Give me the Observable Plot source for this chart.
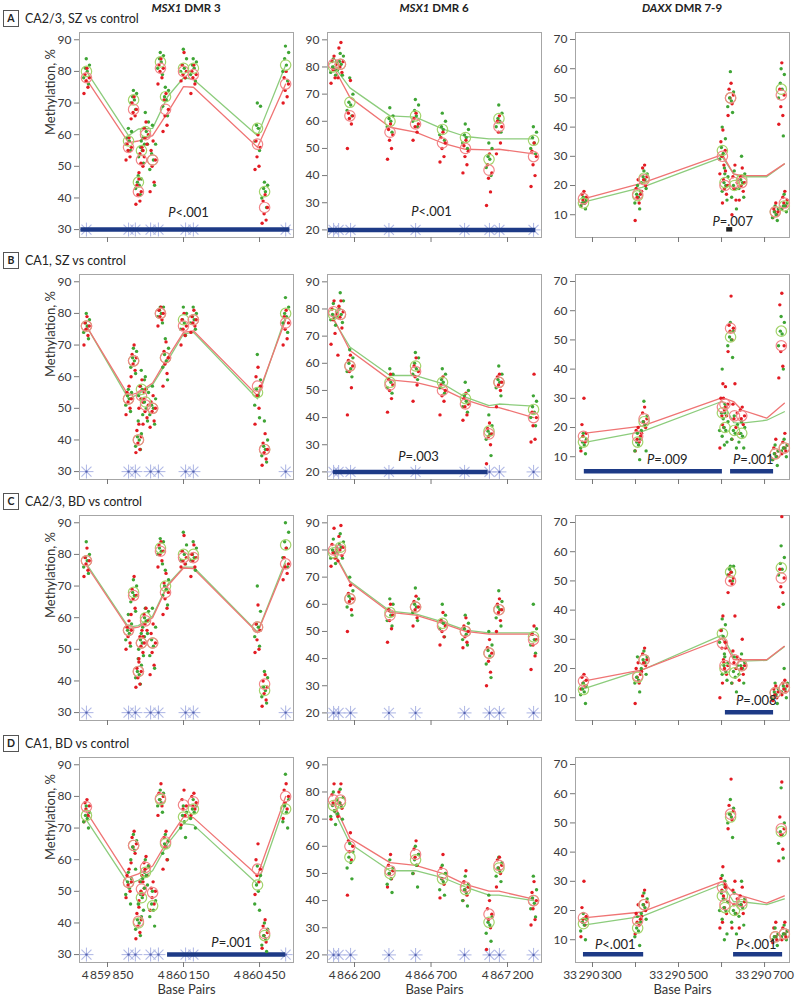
<!DOCTYPE html>
<html><head><meta charset="utf-8">
<script src="https://cdn.jsdelivr.net/npm/d3@7"></script>
<script src="https://cdn.jsdelivr.net/npm/@observablehq/plot@0.6"></script>
<style>
body{margin:0;background:#fff;}
#root{position:relative;width:800px;height:998px;font-family:Lato,"Open Sans",sans-serif;color:#333;overflow:hidden;background:#fff}
.colhead{position:absolute;top:1px;font-size:11.5px;font-weight:700;transform:translateX(-50%);white-space:nowrap;line-height:14px;color:#222}
.rowlab{position:absolute;left:3px;font-size:12.5px;display:flex;align-items:center;white-space:nowrap;line-height:16px;color:#222}
.rowlab .box{display:inline-block;width:14px;height:15px;border:1px solid #555;font-size:10.5px;font-weight:700;text-align:center;line-height:15px;margin-right:6px}
.panel{position:absolute}
</style></head><body><div id="root"></div>
<script>
// ---------- text ----------
const columnGenes = ["MSX1", "MSX1", "DAXX"];
const columnRegions = [" DMR 3", " DMR 6", " DMR 7-9"];
const rowLetters = ["A", "B", "C", "D"];
const rowTitles = ["CA2/3, SZ vs control", "CA1, SZ vs control", "CA2/3, BD vs control", "CA1, BD vs control"];

// ---------- axes ----------
const dmr3YTicks = [30, 40, 50, 60, 70, 80, 90];
const dmr6YTicks = [20, 30, 40, 50, 60, 70, 80, 90];
const daxxYTicks = [10, 20, 30, 40, 50, 60, 70];
const dmr3XTicks = [4859850, 4860150, 4860450];
const dmr6XTicks = [4866200, 4866700, 4867200];
const daxxXTicks = [33290300, 33290400, 33290500, 33290600, 33290700];
const daxxXLabels = [33290300, 33290500, 33290700];

// ---------- CpG site positions (base pairs) ----------
const dmr3Sites = [4859767, 4859933, 4859953, 4859972, 4859984, 4860000, 4860028, 4860059, 4860079, 4860150, 4860189, 4860442, 4860470, 4860553];
const dmr3Stars = [4859767, 4859933, 4859960, 4860020, 4860051, 4860158, 4860189, 4860553];
const dmr3LineX = [4859767, 4859933, 4859972, 4860028, 4860087, 4860150, 4860189, 4860442, 4860553];
const dmr6Sites = [4866063, 4866108, 4866170, 4866432, 4866599, 4866775, 4866925, 4867079, 4867144, 4867370];
const dmr6Stars = [4866063, 4866096, 4866174, 4866425, 4866599, 4866919, 4867082, 4867147, 4867370];
const dmr6LineX = [4866063, 4866170, 4866432, 4866599, 4866775, 4866925, 4867079, 4867144, 4867370];
const daxxSites = [33290279, 33290405, 33290420, 33290602, 33290608, 33290621, 33290630, 33290647, 33290725, 33290739, 33290746];
const daxxStars = [];
const daxxLineX = [33290279, 33290415, 33290602, 33290628, 33290647, 33290705, 33290746];

// ---------- MSX1 DMR 3 ----------
const A1RedPts = [[73,75,77,78,79,81],[52,53,55,56,57,59],[65,66,67,68,70,72],[38,39,41,42,44,46],[48,50,51,53,54,56],[55,57,59,60,62,64],[42,45,50,52,55,58],[76,78,80,81,82,84],[61,63,66,68,71,73],[77,78,79,80,82,86],[73,76,78,79,80,82],[49,50,53,56,58,60],[32,33,35,37,39,41],[70,72,74,76,78,80]];
const A1GreenPts = [[76,78,80,81,82,84],[55,57,58,59,61,62],[68,70,71,72,73,74],[41,43,44,45,46,47],[51,53,55,56,57,58],[57,59,61,62,64,67],[44,49,52,54,57,63],[79,81,83,84,85,86],[66,69,71,72,74,75],[78,80,81,82,84,87],[77,79,81,82,83,84],[55,58,62,63,69,70],[37,40,42,43,44,45],[77,80,82,84,86,88]];
const A1RedMean = [78, 56, 68, 42, 52, 60, 52, 81, 68, 80, 79, 57, 37, 76];
const A1GreenMean = [80, 58, 71, 45, 55, 61, 52, 83, 72, 81, 81, 62, 42, 82];
const A1RedLine = [77.5, 57.5, 58, 59.7, 67, 75.2, 75, 56, 76];
const A1GreenLine = [80, 59.7, 61.8, 62, 72, 78, 77.5, 59.7, 82];

const B1RedPts = [[70,73,75,76,77,79],[48,50,52,53,55,57],[60,62,64,66,67,70],[36,37,39,41,43,45],[50,52,53,55,57,59],[45,47,49,51,53,56],[44,46,49,50,52,54],[76,78,79,80,81,82],[57,61,64,66,68,71],[70,73,75,76,78,80],[74,76,77,78,79,81],[45,50,54,57,60,63],[32,34,36,37,39,42],[70,72,75,77,79,81]];
const B1GreenPts = [[72,74,76,77,78,80],[49,51,53,54,55,56],[61,63,65,66,68,69],[37,38,40,41,42,46],[52,54,56,57,59,62],[46,48,50,52,55,60],[45,48,50,51,53,57],[77,79,80,81,82,82],[59,63,65,67,69,72],[73,75,77,78,80,82],[75,77,78,79,80,82],[47,51,54,56,59,67],[33,35,37,38,40,46],[74,77,79,80,82,85]];
const B1RedMean = [76, 53, 65, 40, 54, 51, 50, 80, 66, 76, 78, 57, 37, 77];
const B1GreenMean = [76, 53, 65, 40, 56, 52, 50, 80, 66, 78, 78, 55, 37, 80];
const B1RedLine = [76, 54, 55, 58, 66, 74, 74.5, 54, 78];
const B1GreenLine = [76, 53, 54.5, 57.5, 65, 73.5, 74, 53, 79];

const C1RedPts = [[73,75,77,78,79,82],[50,52,54,56,57,59],[61,63,66,67,69,73],[38,39,41,43,44,46],[47,49,51,52,54,56],[54,56,58,59,61,63],[42,45,49,52,55,58],[76,78,80,81,83,84],[61,63,66,68,71,74],[76,77,78,79,81,86],[73,76,78,79,80,83],[49,50,53,56,58,64],[32,34,36,38,40,42],[72,74,76,77,79,82]];
const C1GreenPts = [[74,76,78,79,80,84],[51,53,55,56,58,61],[62,65,67,68,70,72],[39,41,42,43,45,47],[48,50,52,53,54,55],[55,57,59,60,62,63],[44,48,51,53,57,63],[77,80,81,82,84,85],[64,67,69,70,72,75],[77,78,80,81,83,87],[75,78,79,80,82,84],[51,54,57,58,62,70],[33,35,37,38,41,43],[76,79,82,84,87,90]];
const C1RedMean = [78, 56, 67, 43, 52, 59, 52, 81, 68, 79, 79, 57, 39, 77];
const C1GreenMean = [78, 56, 68, 43, 52, 60, 52, 82, 70, 80, 80, 57, 37, 83];
const C1RedLine = [76.5, 56.5, 57, 60, 70, 75.7, 75.5, 55.2, 77];
const C1GreenLine = [77, 57, 57.5, 60.5, 70.5, 76, 76, 55.5, 78];

const D1RedPts = [[72,74,76,77,78,79],[48,50,52,53,55,57],[59,62,64,65,67,69],[35,37,39,41,43,45],[47,49,50,51,53,55],[53,55,57,58,59,61],[44,46,48,50,51,53],[74,77,79,80,81,84],[57,60,64,66,67,69],[71,74,76,77,79,82],[74,76,77,78,80,81],[49,53,55,57,60,65],[32,34,36,37,39,41],[73,76,78,80,82,84]];
const D1GreenPts = [[70,72,73,74,75,77],[46,49,51,53,54,56],[57,60,63,64,66,68],[36,38,40,41,42,46],[44,46,48,49,51,53],[52,54,55,56,58,60],[39,42,44,46,47,50],[75,77,78,79,81,82],[60,62,64,65,66,68],[67,70,72,74,75,77],[70,73,75,76,77,79],[44,46,50,52,55,58],[31,33,35,36,38,40],[70,72,75,77,79,87]];
const D1RedMean = [76.7, 52.8, 64.5, 40.5, 50.7, 57.6, 49.6, 79.4, 65.6, 77.3, 78.3, 57, 36.7, 80];
const D1GreenMean = [74, 52.8, 64.5, 40, 48, 56, 45.4, 79, 65, 73.5, 76, 52, 36, 76];
const D1RedLine = [75.1, 54.4, 55.5, 58, 66, 73.5, 73.3, 55, 80];
const D1GreenLine = [72.5, 52.3, 53.5, 56.5, 65, 71.4, 71, 52.3, 78];

// ---------- MSX1 DMR 6 ----------
const A2RedPts = [[74,76,79,81,82,84],[76,78,80,82,87,89],[50,59,61,62,63,75],[46,50,53,55,57,59],[53,56,58,59,61,63],[45,47,50,52,54,56],[41,44,47,49,51,53],[29,34,39,41,44,48],[48,52,56,58,60,62],[36,40,44,47,49,52]];
const A2GreenPts = [[77,78,79,80,82,83],[77,79,81,82,84,85],[62,64,66,67,70,76],[56,58,60,61,62,65],[58,60,62,64,66,68],[53,55,57,58,60,63],[50,52,54,55,57,59],[40,43,46,47,50,52],[56,58,60,61,63,66],[48,50,52,54,56,58]];
const A2RedMean = [81, 81, 62, 56, 59, 52, 50, 42, 58, 47];
const A2GreenMean = [80, 81, 67, 60, 62, 57, 54, 46, 61, 53];
const A2RedLine = [80, 68.8, 57.8, 56, 52, 49.7, 49.5, 49.7, 48];
const A2GreenLine = [80.5, 72.3, 62, 61.5, 57.2, 54.4, 53.5, 53.5, 53.5];

const B2RedPts = [[67,71,76,78,80,83],[63,73,77,79,81,83],[41,51,57,59,61,63],[42,47,50,52,54,56],[46,52,55,57,59,62],[41,46,48,50,52,55],[39,41,44,45,47,49],[23,30,33,34,36,38],[44,50,52,53,55,56],[31,32,37,40,42,56]];
const B2GreenPts = [[74,76,77,78,79,82],[75,77,78,80,83,86],[55,57,58,60,62,65],[49,51,53,54,56,58],[54,56,58,60,62,64],[49,51,53,54,56,58],[42,44,46,48,50,53],[26,32,34,35,37,41],[48,51,53,54,56,59],[37,40,42,44,46,48]];
const B2RedMean = [79, 78, 59, 52, 57, 50, 45, 34, 53, 40];
const B2GreenMean = [78, 78, 59, 53, 59, 53, 47, 35, 53, 43];
const B2RedLine = [76.5, 64.7, 53.9, 53, 50.6, 46.5, 43.8, 43.7, 40];
const B2GreenLine = [76, 66, 55.5, 55.5, 52.5, 47.5, 44.4, 45, 44.2];

const C2RedPts = [[74,77,79,80,82,88],[76,78,80,81,85,89],[50,58,61,62,64,67],[46,51,54,56,58,60],[52,55,58,59,61,63],[45,48,50,52,54,57],[44,46,48,50,52,55],[30,35,39,42,44,47],[50,54,57,58,60,62],[36,41,45,47,49,52]];
const C2GreenPts = [[75,77,79,80,81,84],[77,79,81,82,83,86],[56,59,62,63,65,70],[52,54,56,58,60,62],[54,57,59,60,62,66],[48,51,53,54,56,60],[45,47,49,51,53,56],[33,38,41,43,45,50],[52,55,58,59,61,65],[42,45,47,49,51,60]];
const C2RedMean = [80, 80, 62, 56, 59, 52, 50, 42, 58, 47];
const C2GreenMean = [79, 81, 62, 57, 59, 53, 50, 42, 58, 48];
const C2RedLine = [79, 68, 57, 56, 53, 50, 49, 49, 49];
const C2GreenLine = [79.5, 68.5, 57.5, 56.5, 53.5, 50.5, 49.5, 49.5, 49.5];

const D2RedPts = [[70,73,76,77,79,83],[71,74,76,78,80,83],[42,55,58,60,62,65],[45,48,50,51,53,57],[50,53,56,57,59,62],[41,46,48,50,52,57],[40,42,44,45,47,51],[22,30,33,35,37,40],[45,50,52,53,55,56],[31,33,37,40,43,47]];
const D2GreenPts = [[68,71,73,75,77,80],[70,72,75,76,78,81],[48,52,54,56,58,61],[43,46,48,50,52,55],[45,50,53,55,57,60],[42,44,47,48,50,53],[38,40,43,44,46,49],[25,28,31,32,34,42],[47,49,51,52,54,56],[34,37,39,41,44,49]];
const D2RedMean = [77, 77, 60, 51, 57, 50, 45, 35, 53, 40];
const D2GreenMean = [75, 76, 56, 50, 55, 48, 44, 32, 52, 40];
const D2RedLine = [76, 63, 54, 53, 50, 46, 43.5, 43.5, 40.5];
const D2GreenLine = [73.5, 61, 51, 51, 48.5, 45, 42, 42, 40];

// ---------- DAXX DMR 7-9 ----------
const A3RedPts = [[13,14,15,16,17,18],[8,14,16,17,19,22],[18,20,22,23,26,27],[24,27,30,32,35,39],[14,17,19,20,22,25],[44,48,50,51,53,55],[10,15,19,21,23,27],[15,18,20,21,23,26],[9,10,11,11,12,14],[41,44,47,51,53,62],[12,13,14,15,16,18]];
const A3GreenPts = [[12,13,14,14,15,16],[12,14,16,17,18,20],[19,21,22,23,24,25],[26,29,31,33,36,40],[15,18,20,21,23,24],[45,47,49,50,52,59],[12,16,19,20,22,25],[16,19,21,22,24,30],[8,9,10,11,12,13],[37,50,53,55,58,60],[11,12,13,13,14,17]];
const A3RedMean = [15.5, 17, 22, 30, 20, 50, 21, 21, 11, 51, 14];
const A3GreenMean = [14, 16.5, 22.5, 32, 21, 50, 20, 22, 11, 53, 13];
const A3RedLine = [15.4, 20.8, 30.6, 24, 23.4, 23.4, 27.4];
const A3GreenLine = [14.3, 19.4, 29.7, 24, 23, 23, 27.4];

const B3RedPts = [[12,15,17,18,21,30],[12,15,16,17,19,20],[18,20,22,23,25,27],[13,20,24,27,30,35],[21,24,26,28,30,34],[46,50,53,54,55,65],[16,20,23,25,28,35],[18,21,23,24,26,27],[9,10,11,12,13,16],[37,41,46,48,62,66],[11,12,13,14,15,18]];
const B3GreenPts = [[11,13,14,15,16,18],[9,12,14,15,16,18],[12,19,21,22,24,29],[14,19,23,25,28,40],[15,17,19,20,22,25],[44,48,50,51,53,56],[13,16,18,19,21,24],[13,15,17,18,20,22],[7,9,10,11,12,14],[40,48,52,53,56,58],[10,12,13,13,14,16]];
const B3RedMean = [17, 17, 23, 27, 28, 54, 24, 24, 11, 48, 13];
const B3GreenMean = [15, 15, 22, 25, 20, 51, 19, 18, 11, 53, 13];
const B3RedLine = [18, 20.5, 30.2, 28.9, 26, 23.2, 28.3];
const B3GreenLine = [14.8, 18.6, 29, 21.7, 21.5, 22.5, 25.4];

const C3RedPts = [[13,14,15,16,17,18],[8,15,17,18,20,22],[19,21,22,23,25,27],[10,22,27,29,33,38],[15,18,20,21,23,27],[46,49,50,51,52,53],[15,20,22,24,26,38],[16,18,20,21,23,30],[9,10,11,12,13,14],[41,46,48,51,54,72],[11,12,13,14,15,16]];
const C3GreenPts = [[8,11,12,13,14,15],[12,15,16,17,19,24],[18,20,22,23,24,26],[25,29,31,33,35,37],[16,18,19,21,22,24],[50,52,53,54,55,55],[12,15,17,19,21,24],[15,18,20,21,22,25],[8,10,11,12,13,15],[42,52,54,56,58,62],[10,12,13,14,15,20]];
const C3RedMean = [15.7, 17.4, 23, 28.7, 21, 50, 23, 21, 11.7, 51, 13.4];
const C3GreenMean = [12.8, 17, 23, 32, 20, 53, 18.5, 21, 11.7, 54.5, 13.4];
const C3RedLine = [15.7, 19.5, 30.2, 23, 23, 23, 27.6];
const C3GreenLine = [13, 19.5, 31.5, 24, 22.5, 22.8, 27.5];

const D3RedPts = [[11,15,17,18,21,30],[12,15,16,17,19,22],[18,20,22,23,25,27],[14,24,27,29,31,35],[16,19,21,23,25,28],[48,51,53,54,56,65],[14,19,22,24,27,30],[14,19,22,23,25,28],[9,10,11,12,14,16],[37,41,46,48,52,64],[10,11,12,13,14,16]];
const D3GreenPts = [[10,13,15,16,17,19],[8,11,13,14,16,18],[17,19,21,22,24,26],[10,20,24,26,28,32],[12,17,20,21,23,30],[45,50,52,53,55,58],[12,16,19,20,22,26],[15,18,21,22,24,30],[8,10,11,11,12,14],[38,43,46,47,50,62],[10,11,12,12,13,15]];
const D3RedMean = [17.5, 16.6, 22, 28, 22, 53, 24, 23, 11, 48, 12];
const D3GreenMean = [15.5, 14, 22, 25, 21, 52, 20, 22, 11, 47, 12];
const D3RedLine = [17.5, 19.5, 30, 26, 25, 22.5, 25];
const D3GreenLine = [15, 18, 29, 23, 23, 22, 24];

// ---------- significance bars [from, to, level] and P values [x, y, text] ----------
const A1Bars = [[4859745, 4860570, 30]]; const A1P = [[4860158, 35.4, "<.001"]];
const A2Bars = [[4866030, 4867385, 20]]; const A2P = [[4866684, 26.5, "<.001"]];
const A3Bars = [[33290612, 33290626, 5]]; const A3P = [[33290619, 7.6, "=.007"]];
const B1Bars = []; const B1P = [];
const B2Bars = [[4866063, 4867073, 20]]; const B2P = [[4866599, 25.5, "=.003"]];
const B3Bars = [[33290281, 33290602, 5], [33290621, 33290721, 5]]; const B3P = [[33290467, 8.9, "=.009"], [33290667, 8.9, "=.001"]];
const C1Bars = []; const C1P = [];
const C2Bars = []; const C2P = [];
const C3Bars = [[33290609, 33290721, 5]]; const C3P = [[33290674, 8.8, "=.008"]];
const D1Bars = [[4860087, 4860553, 30]]; const D1P = [[4860328, 33.6, "=.001"]];
const D2Bars = []; const D2P = [];
const D3Bars = [[33290279, 33290419, 5], [33290628, 33290742, 5]]; const D3P = [[33290346, 8.4, "<.001"], [33290674, 8.4, "<.001"]];

// ---------- assemble ----------
const RED = "#e31b23", GREEN = "#3fa535";
const RED_CIRCLE = "#f2878a", GREEN_CIRCLE = "#a3d46c";
const RED_LINE = "#ef7474", GREEN_LINE = "#8ccc7c";
const BAR = "#1d3a86", STAR = "#b3bbe6";
const FW = 214, FH = 205;
const colLefts = [79, 327, 575];
const rowTops = [32, 274, 515, 757];

const cols = [
  {sites: dmr3Sites, stars: dmr3Stars, lineX: dmr3LineX, starY: 30, xDomain: [4859739.5, 4860584], yDomain: [27.5, 92.3], yTicks: dmr3YTicks, xTicks: dmr3XTicks, xLabels: dmr3XTicks},
  {sites: dmr6Sites, stars: dmr6Stars, lineX: dmr6LineX, starY: 20, xDomain: [4866023.5, 4867422], yDomain: [17.2, 92.7], yTicks: dmr6YTicks, xTicks: dmr6XTicks, xLabels: dmr6XTicks},
  {sites: daxxSites, stars: daxxStars, lineX: daxxLineX, starY: 0, xDomain: [33290260.5, 33290758], yDomain: [2.2, 72.4], yTicks: daxxYTicks, xTicks: daxxXTicks, xLabels: daxxXLabels}
];
const panelData = [
  [[A1RedPts, A1GreenPts, A1RedMean, A1GreenMean, A1RedLine, A1GreenLine, A1Bars, A1P],
   [A2RedPts, A2GreenPts, A2RedMean, A2GreenMean, A2RedLine, A2GreenLine, A2Bars, A2P],
   [A3RedPts, A3GreenPts, A3RedMean, A3GreenMean, A3RedLine, A3GreenLine, A3Bars, A3P]],
  [[B1RedPts, B1GreenPts, B1RedMean, B1GreenMean, B1RedLine, B1GreenLine, B1Bars, B1P],
   [B2RedPts, B2GreenPts, B2RedMean, B2GreenMean, B2RedLine, B2GreenLine, B2Bars, B2P],
   [B3RedPts, B3GreenPts, B3RedMean, B3GreenMean, B3RedLine, B3GreenLine, B3Bars, B3P]],
  [[C1RedPts, C1GreenPts, C1RedMean, C1GreenMean, C1RedLine, C1GreenLine, C1Bars, C1P],
   [C2RedPts, C2GreenPts, C2RedMean, C2GreenMean, C2RedLine, C2GreenLine, C2Bars, C2P],
   [C3RedPts, C3GreenPts, C3RedMean, C3GreenMean, C3RedLine, C3GreenLine, C3Bars, C3P]],
  [[D1RedPts, D1GreenPts, D1RedMean, D1GreenMean, D1RedLine, D1GreenLine, D1Bars, D1P],
   [D2RedPts, D2GreenPts, D2RedMean, D2GreenMean, D2RedLine, D2GreenLine, D2Bars, D2P],
   [D3RedPts, D3GreenPts, D3RedMean, D3GreenMean, D3RedLine, D3GreenLine, D3Bars, D3P]]
];

const fmtBP = v => d3.format(",")(v).replace(/,/g, "\u2009");
const root = document.getElementById("root");

// column headers
colLefts.forEach((l, i) => {
  const d = document.createElement("div");
  d.className = "colhead";
  d.style.left = (l + FW / 2) + "px";
  d.innerHTML = `<i>${columnGenes[i]}</i>${columnRegions[i]}`;
  root.appendChild(d);
});
// row labels
rowTops.forEach((t, i) => {
  const d = document.createElement("div");
  d.className = "rowlab";
  d.style.top = (t - 22) + "px";
  d.innerHTML = `<span class="box">${rowLetters[i]}</span><span>${rowTitles[i]}</span>`;
  root.appendChild(d);
});

const jitR = [-2.5, 1.5, -0.5, 2.8, -1.5, 0.5];
const jitG = [2, -2.8, 0.8, -1, 3, -0.2];

const ML = 45, MR = 6, MT = 5;
rowTops.forEach((top, ri) => {
  cols.forEach((c, ci) => {
    const [rp, gp, rm, gm, rl, gl, bars, pv] = panelData[ri][ci];
    const bpPerPx = (c.xDomain[1] - c.xDomain[0]) / FW;
    const yPerPx = (c.yDomain[1] - c.yDomain[0]) / FH;
    const pts = [];
    c.sites.forEach((s, k) => {
      const n = Math.max(rp[k].length, gp[k].length);
      for (let i = 0; i < n; i++) {
        if (i < gp[k].length) pts.push({x: s + jitG[i % 6] * bpPerPx, y: gp[k][i], c: GREEN});
        if (i < rp[k].length) pts.push({x: s + jitR[i % 6] * bpPerPx, y: rp[k][i], c: RED});
      }
    });
    const means = c.sites.flatMap((s, k) => [{x: s, y: gm[k], c: GREEN_CIRCLE}, {x: s, y: rm[k], c: RED_CIRCLE}]);
    const redLine = c.lineX.map((x, i) => ({x, y: rl[i]}));
    const greenLine = c.lineX.map((x, i) => ({x, y: gl[i]}));
    const armX = 7 * bpPerPx, armY = 7 * yPerPx, dg = 5;
    const starArms = c.stars.flatMap(s => [
      {x1: s - armX, x2: s + armX, y1: c.starY, y2: c.starY},
      {x1: s, x2: s, y1: c.starY - armY, y2: c.starY + armY},
      {x1: s - dg * bpPerPx, x2: s + dg * bpPerPx, y1: c.starY - dg * yPerPx, y2: c.starY + dg * yPerPx},
      {x1: s - dg * bpPerPx, x2: s + dg * bpPerPx, y1: c.starY + dg * yPerPx, y2: c.starY - dg * yPerPx}
    ]);
    const bottom = ri === 3;
    const MB = bottom ? 36 : 12;
    const marks = [
      Plot.frame({stroke: "#a6a6a6"}),
      Plot.axisY({ticks: c.yTicks, tickSize: 5, tickPadding: 3, fontSize: 12, stroke: "#777", fill: "#3a3a3a", label: null, tickFormat: d => String(d)}),
      Plot.axisX({ticks: c.xTicks, tickSize: 5, tickPadding: 3, fontSize: 12, stroke: "#777", fill: "#3a3a3a", label: null,
        tickFormat: d => (bottom && c.xLabels.includes(d)) ? fmtBP(d) : ""}),
      Plot.link(starArms, {x1: "x1", x2: "x2", y1: "y1", y2: "y2", stroke: STAR, strokeWidth: 1.1}),
      Plot.dot(c.stars, {x: d => d, y: () => c.starY, r: 1.2, fill: "#5563b0"}),
      Plot.ruleY(bars, {y: d => d[2], x1: d => d[0], x2: d => d[1], stroke: ri === 0 && ci === 2 ? "#222" : BAR, strokeWidth: 4.5}),
      Plot.line(greenLine, {x: "x", y: "y", stroke: GREEN_LINE, strokeWidth: 1.3}),
      Plot.line(redLine, {x: "x", y: "y", stroke: RED_LINE, strokeWidth: 1.3}),
      Plot.dot(pts, {x: "x", y: "y", r: 1.7, fill: "c", stroke: null}),
      Plot.dot(means, {x: "x", y: "y", r: 5.2, stroke: "c", fill: "none", strokeWidth: 1.2}),
      Plot.text(pv, {x: d => d[0], y: d => d[1], text: () => "P", fontStyle: "italic", textAnchor: "end", dx: -10, fontSize: 13, fill: "#222"}),
      Plot.text(pv, {x: d => d[0], y: d => d[1], text: d => d[2], textAnchor: "start", dx: -10, fontSize: 13, fill: "#222"})
    ];
    if (ci === 0) marks.push(Plot.text(["Methylation, %"], {frameAnchor: "left", text: d => d, rotate: -90, dx: -29, fontSize: 13, fill: "#333"}));
    if (bottom) marks.push(Plot.text(["Base Pairs"], {frameAnchor: "bottom", lineAnchor: "middle", text: d => d, dy: 27, fontSize: 13, fill: "#333"}));
    const svg = Plot.plot({
      width: ML + FW + MR, height: MT + FH + MB,
      marginLeft: ML, marginRight: MR, marginTop: MT, marginBottom: MB,
      x: {domain: c.xDomain}, y: {domain: c.yDomain},
      color: {type: "identity"},
      style: {background: "transparent", fontFamily: "Lato, 'Open Sans', sans-serif", overflow: "visible"},
      marks
    });
    const wrap = document.createElement("div");
    wrap.className = "panel";
    wrap.style.left = (colLefts[ci] - ML) + "px";
    wrap.style.top = (top - MT) + "px";
    wrap.appendChild(svg);
    root.appendChild(wrap);
  });
});
</script></body></html>
